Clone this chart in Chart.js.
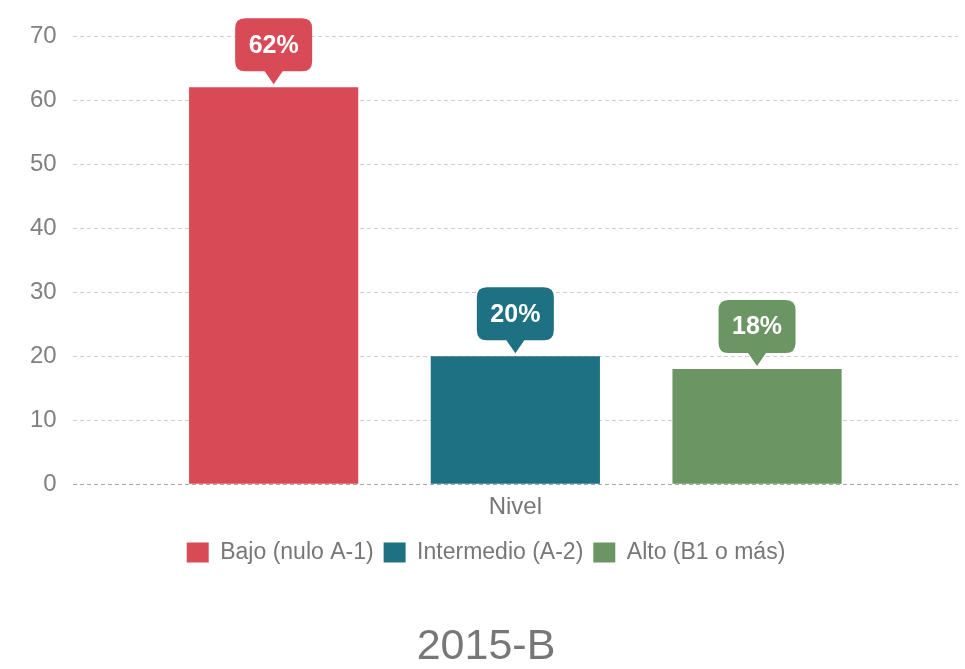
<!DOCTYPE html>
<html>
<head>
<meta charset="utf-8">
<script src="https://cdn.jsdelivr.net/npm/chart.js@4/dist/chart.umd.min.js"></script>
<style>
  html, body { margin: 0; padding: 0; background: #fff; }
  #wrap { width: 965px; height: 669px; }
</style>
</head>
<body>
<div id="wrap"><canvas id="levelChart"></canvas></div>
<script>
// Data
const categories = ["Nivel"];
const seriesNames = ["Bajo (nulo A-1)", "Intermedio (A-2)", "Alto (B1 o más)"];
const seriesValues = [[62], [20], [18]];
const seriesColors = ["#d94a57", "#1e7183", "#6b9562"];
const yTicks = [0, 10, 20, 30, 40, 50, 60, 70];

const FONT = "'Liberation Sans', Arial, sans-serif";

// Callout bubble above each bar
const calloutPlugin = {
  id: "callout",
  afterDatasetsDraw(chart) {
    const ctx = chart.ctx;
    ctx.save();
    ctx.font = "bold 25px " + FONT;
    chart.data.datasets.forEach((ds, i) => {
      const meta = chart.getDatasetMeta(i);
      meta.data.forEach((bar, j) => {
        const text = ds.data[j] + "%";
        const w = 77, h = 53, r = 10, tip = 16;
        const x = bar.x - w / 2;
        const yb = bar.y - tip;
        const y = yb - h;
        ctx.fillStyle = ds.backgroundColor;
        ctx.beginPath();
        ctx.moveTo(x + r, y);
        ctx.lineTo(x + w - r, y);
        ctx.quadraticCurveTo(x + w, y, x + w, y + r);
        ctx.lineTo(x + w, yb - r);
        ctx.quadraticCurveTo(x + w, yb, x + w - r, yb);
        ctx.lineTo(bar.x + 9, yb);
        ctx.lineTo(bar.x, bar.y - 3);
        ctx.lineTo(bar.x - 9, yb);
        ctx.lineTo(x + r, yb);
        ctx.quadraticCurveTo(x, yb, x, yb - r);
        ctx.lineTo(x, y + r);
        ctx.quadraticCurveTo(x, y, x + r, y);
        ctx.closePath();
        ctx.fill();
        ctx.fillStyle = "#fff";
        ctx.textAlign = "center";
        ctx.textBaseline = "middle";
        ctx.fillText(text, bar.x, y + h / 2 + 1);
      });
    });
    ctx.restore();
  }
};

const ctx = document.getElementById("levelChart").getContext("2d");
new Chart(ctx, {
  type: "bar",
  data: {
    labels: categories,
    datasets: seriesNames.map((name, i) => ({
      label: name,
      data: seriesValues[i],
      backgroundColor: seriesColors[i],
      borderWidth: 0,
      barPercentage: 0.7,
      categoryPercentage: 0.819,
    })),
  },
  options: {
    responsive: true,
    maintainAspectRatio: false,
    animation: false,
    layout: { padding: { top: 36, right: 7, left: 14, bottom: 0 } },
    plugins: {
      tooltip: { enabled: false },
      legend: {
        position: "bottom",
        labels: {
          boxWidth: 22,
          boxHeight: 20,
          padding: 10,
          color: "#777",
          font: { family: FONT, size: 23 },
        },
      },
      title: {
        display: true,
        position: "bottom",
        text: "2015-B",
        color: "#777",
        font: { family: FONT, size: 43, weight: "normal", lineHeight: 1 },
        padding: { top: 52, bottom: 0 },
      },
    },
    scales: {
      x: {
        grid: { display: false, drawTicks: false },
        border: { display: false },
        ticks: {
          color: "#777",
          padding: 9,
          font: { family: FONT, size: 24 },
        },
      },
      y: {
        min: 0,
        max: 70,
        afterBuildTicks: (axis) => { axis.ticks = yTicks.map((v) => ({ value: v })); },
        border: { display: false, dash: [4, 3] },
        grid: {
          color: (c) => (c.tick && c.tick.value === 0 ? "#a8a8a8" : "#cfcfcf"),
          lineWidth: 1,
          drawTicks: false,
        },
        ticks: {
          color: "#808080",
          padding: 16,
          font: { family: FONT, size: 24 },
        },
      },
    },
  },
  plugins: [calloutPlugin],
});
</script>
</body>
</html>
